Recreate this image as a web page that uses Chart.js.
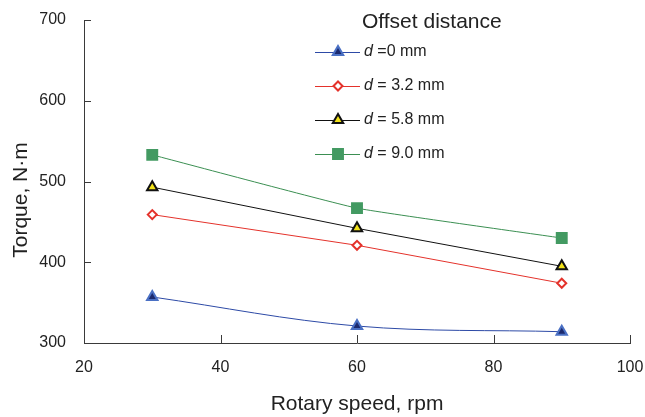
<!DOCTYPE html>
<html>
<head>
<meta charset="utf-8">
<script src="https://cdn.jsdelivr.net/npm/chart.js@4.4.1/dist/chart.umd.min.js"></script>
<style>
  html, body { margin: 0; padding: 0; background: #fff; }
  #wrap { width: 645px; height: 417px; }
</style>
</head>
<body>
<div id="wrap"><canvas id="torqueChart" width="645" height="417"></canvas></div>
<script>
// rotary speed (rpm) and torque (N·m) for each offset distance
const speeds = [30, 60, 90];
const torqueD0 = [357, 321, 314];
const torqueD32 = [459, 421, 374];
const torqueD58 = [493, 442, 395];
const torqueD90 = [533, 467, 430];

const xTicks = [20, 40, 60, 80, 100];
const yTicks = [300, 400, 500, 600, 700];

// text after the italic "d" in each legend row
const seriesLabels = [' =0 mm', ' = 3.2 mm', ' = 5.8 mm', ' = 9.0 mm'];

const FONT = 'Liberation Sans, Arial, sans-serif';
const AXIS_COLOR = '#3a3a3a';
const TEXT_COLOR = '#222';

function toPoints(values) {
    return speeds.map((s, i) => ({ x: s, y: values[i] }));
}

/* ======= Inward tick marks + rotated y title ======= */
const innerTicks = {
    id: 'innerTicks',
    afterDraw(chart) {
        const ctx = chart.ctx;
        const xs = chart.scales.x;
        const ys = chart.scales.y;
        ctx.save();
        ctx.strokeStyle = AXIS_COLOR;
        ctx.lineWidth = 1;
        ctx.beginPath();
        xTicks.forEach(v => {
            const px = Math.round(xs.getPixelForValue(v)) + 0.5;
            ctx.moveTo(px, ys.bottom);
            ctx.lineTo(px, ys.bottom - 8);
        });
        yTicks.forEach(v => {
            const py = Math.round(ys.getPixelForValue(v)) + 0.5;
            ctx.moveTo(xs.left, py);
            ctx.lineTo(xs.left + 7, py);
        });
        ctx.stroke();

        ctx.translate(21, 200);
        ctx.rotate(-Math.PI / 2);
        ctx.fillStyle = TEXT_COLOR;
        ctx.font = '21px ' + FONT;
        ctx.textAlign = 'center';
        ctx.textBaseline = 'middle';
        ctx.fillText('Torque, N·m', 0, 0);
        ctx.restore();
    }
};

/* ======= Legend drawn inside the plot ======= */
const offsetLegend = {
    id: 'offsetLegend',
    afterDraw(chart) {
        const ctx = chart.ctx;
        ctx.save();
        ctx.fillStyle = TEXT_COLOR;
        ctx.textBaseline = 'middle';
        ctx.font = '21px ' + FONT;
        ctx.fillText('Offset distance', 362, 22);

        chart.data.datasets.forEach((ds, i) => {
            const y = 52 + i * 34;
            ctx.strokeStyle = ds.borderColor;
            ctx.lineWidth = 1;
            ctx.beginPath();
            ctx.moveTo(315, y + 0.5);
            ctx.lineTo(360, y + 0.5);
            ctx.stroke();

            ctx.fillStyle = ds.pointBackgroundColor;
            ctx.strokeStyle = ds.pointBorderColor;
            ctx.lineWidth = ds.pointBorderWidth;
            Chart.helpers.drawPoint(ctx, {
                pointStyle: ds.pointStyle,
                radius: ds.pointRadius,
                rotation: 0,
                borderWidth: ds.pointBorderWidth
            }, 338, y);

            ctx.fillStyle = TEXT_COLOR;
            ctx.font = 'italic 16px ' + FONT;
            ctx.fillText('d', 364, y);
            const w = ctx.measureText('d').width;
            ctx.font = '16px ' + FONT;
            ctx.fillText(seriesLabels[i], 364 + w, y);
        });
        ctx.restore();
    }
};

function series(values, line, style, radius, fill, border, tension) {
    return {
        data: toPoints(values),
        borderColor: line,
        borderWidth: 1,
        pointStyle: style,
        pointRadius: radius,
        pointBackgroundColor: fill,
        pointBorderColor: border,
        pointBorderWidth: 2,
        tension: tension,
        fill: false
    };
}

const ctx = document.getElementById('torqueChart');
new Chart(ctx, {
    type: 'line',
    data: {
        datasets: [
            series(torqueD0, '#2d4aa6', 'triangle', 6, '#1c2a6e', '#4a70c4', 0.35),
            series(torqueD32, '#e4322b', 'rectRot', 4.5, '#ffffff', '#e4322b', 0),
            series(torqueD58, '#111111', 'triangle', 6, '#f2e21a', '#111111', 0),
            series(torqueD90, '#3b8f52', 'rect', 7, '#439a62', '#439a62', 0.1)
        ]
    },
    options: {
        responsive: false,
        animation: false,
        layout: {
            padding: { top: 20, right: 15, left: 0, bottom: 0 }
        },
        plugins: {
            legend: { display: false },
            tooltip: { enabled: false }
        },
        scales: {
            x: {
                type: 'linear',
                min: 20,
                max: 100,
                afterFit(scale) {
                    scale.height = 74;
                    scale.paddingLeft = 0;
                    scale.paddingRight = 0;
                },
                afterBuildTicks(scale) { scale.ticks = xTicks.map(v => ({ value: v })); },
                grid: { display: false, drawTicks: false },
                border: { display: true, color: AXIS_COLOR, width: 1 },
                ticks: {
                    color: TEXT_COLOR,
                    padding: 15,
                    font: { family: FONT, size: 16 }
                },
                title: {
                    display: true,
                    text: 'Rotary speed, rpm',
                    color: TEXT_COLOR,
                    padding: { top: 0, bottom: 0 },
                    font: { family: FONT, size: 21 }
                }
            },
            y: {
                type: 'linear',
                min: 300,
                max: 700,
                afterFit(scale) {
                    scale.width = 84;
                    scale.paddingTop = 0;
                    scale.paddingBottom = 0;
                },
                afterBuildTicks(scale) { scale.ticks = yTicks.map(v => ({ value: v })); },
                grid: { display: false, drawTicks: false },
                border: { display: true, color: AXIS_COLOR, width: 1 },
                ticks: {
                    color: TEXT_COLOR,
                    padding: 18,
                    font: { family: FONT, size: 16 }
                },
                title: { display: false }
            }
        }
    },
    plugins: [innerTicks, offsetLegend]
});
</script>
</body>
</html>
